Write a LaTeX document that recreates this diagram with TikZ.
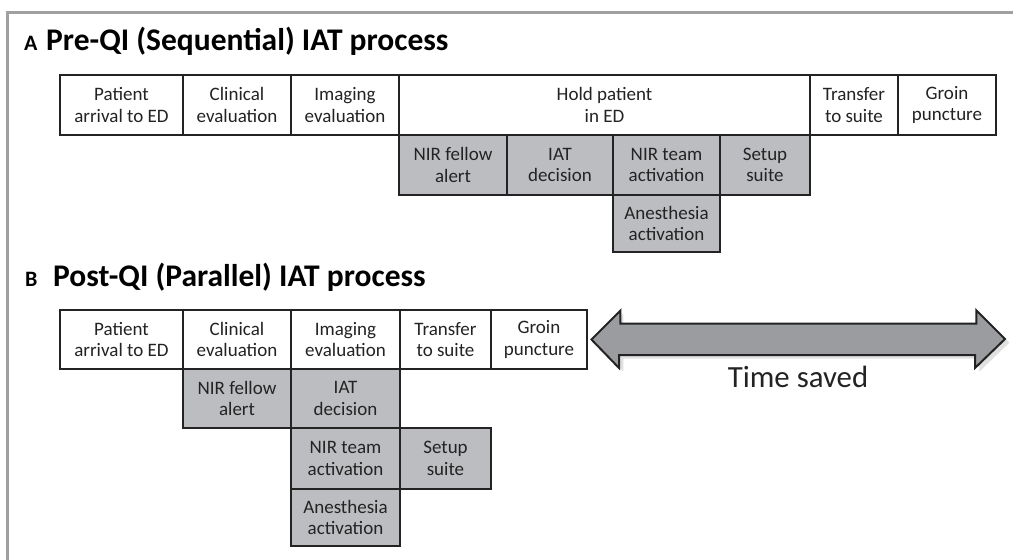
\documentclass[tikz,border=0pt]{standalone}
\usepackage{fontspec}
\setmainfont{Carlito}
\usepackage{xcolor}
\usetikzlibrary{positioning, calc}
\definecolor{Frame}{RGB}{160, 160, 162}
\definecolor{Task}{RGB}{188, 189, 192}
\definecolor{Gain}{RGB}{155, 156, 160}
\definecolor{Ink}{RGB}{35, 35, 35}

\begin{document}
\begin{tikzpicture}[x=1pt, y=-1pt,
            stage/.style={draw=Ink, line width=2.9pt, fill=white, inner sep=0pt, align=center, font=\fontsize{19}{21.5}\selectfont, text=Ink},
            task/.style={stage, fill=Task},
            heading/.style={anchor=base west, inner sep=0pt, font=\fontsize{31.5}{36}\selectfont\bfseries, text=black},
            panel/.style={anchor=base west, inner sep=0pt, font=\fontsize{22}{26}\selectfont\bfseries, text=black}
        ]
            \useasboundingbox (0,0) rectangle (1013,560);
            % frame
            \draw[Frame, line width=3pt] (7,560) -- (7,12.5) -- (1013,12.5);

            % A: sequential flow
            \node[panel] (la) at (24,50) {A};
            \node[heading] (ta) at (46,50) {Pre-QI (Sequential) IAT process};
            \node[stage, minimum width=123, minimum height=60] (a1) at (121.5,105) {Patient\\arrival to ED};
            \node[stage, minimum width=108, minimum height=60] (a2) at (237,105) {Clinical\\evaluation};
            \node[stage, minimum width=108, minimum height=60] (a3) at (345,105) {Imaging\\evaluation};
            \node[stage, minimum width=411, minimum height=60] (a4) at (604.5,105) {Hold patient\\in ED};
            \node[stage, minimum width=88, minimum height=60] (a5) at (854,105) {Transfer\\to suite};
            \node[stage, minimum width=98, minimum height=60] (a6) at (947,105) {Groin\\puncture};
            \node[task, minimum width=108, minimum height=60] (a7) at (453,165) {NIR fellow\\alert};
            \node[task, minimum width=106, minimum height=60] (a8) at (560,165) {IAT\\decision};
            \node[task, minimum width=107, minimum height=60] (a9) at (666.5,165) {NIR team\\activation};
            \node[task, minimum width=90, minimum height=60] (a10) at (765,165) {Setup\\suite};
            \node[task, minimum width=107, minimum height=57] (a11) at (666.5,223.5) {Anesthesia\\activation};

            % B: parallel flow
            \node[panel] (lb) at (25,286) {B};
            \node[heading] (tb) at (53,286) {Post-QI (Parallel) IAT process};
            \node[stage, minimum width=123, minimum height=59] (b1) at (121.5,339.5) {Patient\\arrival to ED};
            \node[stage, minimum width=108, minimum height=59] (b2) at (237,339.5) {Clinical\\evaluation};
            \node[stage, minimum width=109, minimum height=59] (b3) at (345.5,339.5) {Imaging\\evaluation};
            \node[stage, minimum width=91, minimum height=59] (b4) at (445.5,339.5) {Transfer\\to suite};
            \node[stage, minimum width=96, minimum height=59] (b5) at (539,339.5) {Groin\\puncture};
            \node[task, minimum width=108, minimum height=59] (b6) at (237,398.5) {NIR fellow\\alert};
            \node[task, minimum width=109, minimum height=59] (b7) at (345.5,398.5) {IAT\\decision};
            \node[task, minimum width=109, minimum height=61] (b8) at (345.5,458.5) {NIR team\\activation};
            \node[task, minimum width=91, minimum height=61] (b9) at (445.5,458.5) {Setup\\suite};
            \node[task, minimum width=109, minimum height=57] (b10) at (345.5,517.5) {Anesthesia\\activation};

            % time saved
            \coordinate (gl) at ($(b5.east)+(3,0)$);
            \coordinate (gr) at (1005,339);
            \fill[black, opacity=0.12] ($(gl)+(3,3)$) -- ++(29,-29) -- ++(0,13) -- ++(356,0) -- ++(0,-13) -- ++(30,29) -- ++(-30,29) -- ++(0,-13) -- ++(-356,0) -- ++(0,13) -- cycle;
            \draw[Ink, fill=Gain, line width=2pt, line join=miter] (gl) -- ++(29,-29) -- ++(0,13) -- ++(356,0) -- ++(0,-13) -- (gr) -- ++(-30,29) -- ++(0,-13) -- ++(-356,0) -- ++(0,13) -- cycle;
            \node[anchor=base, inner sep=0pt, font=\fontsize{30.8}{36}\selectfont, text=Ink] (ts) at (798,387) {Time saved};
        \end{tikzpicture}
\end{document}
